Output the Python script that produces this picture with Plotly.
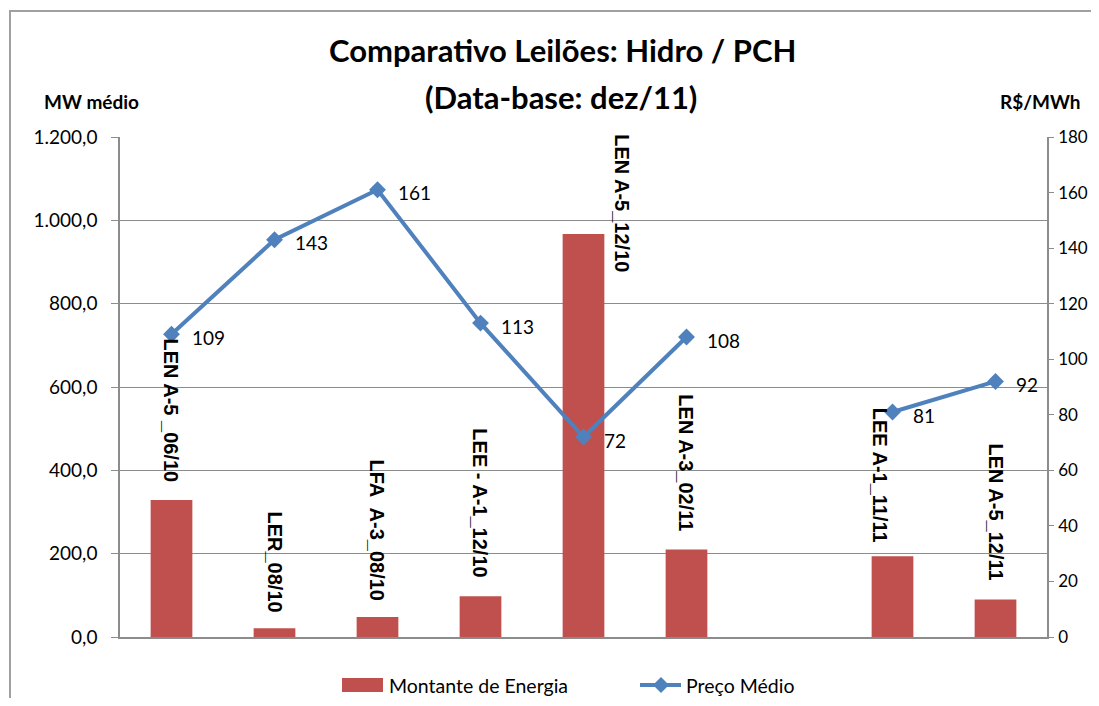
import plotly.graph_objects as go

categories = ["LEN A-5 _06/10", "LER_08/10", "LFA  A-3_08/10", "LEE - A-1_12/10",
              "LEN A-5_12/10", "LEN A-3_02/11", "", "LEE A-1_11/11", "LEN A-5_12/11"]
montante = [329, 21, 48, 98, 967, 210, None, 194, 90]
preco = [109, 143, 161, 113, 72, 108, None, 81, 92]
left_ticks = [0, 200, 400, 600, 800, 1000, 1200]
right_ticks = [0, 20, 40, 60, 80, 100, 120, 140, 160, 180]

# category-label placement: horizontal offset (in categories) and vertical centre (MW units)
label_x_offset = [0, 0, 0, 0, 0.38, 0, 0, -0.12, 0]
label_y_center = [545, 180, 257, 322, 1042, 418, 0, 389, 300]

x_idx = list(range(len(categories)))

BLUE = "#4F81BD"
RED = "#C0504D"
GRID = "#8C8C8C"
FONT = "Lato, sans-serif"
BOLDFONT = "Liberation Sans, Arial, sans-serif"

# page offset of the figure (default body margin of the html page)
OFF = 8
FIG_W, FIG_H = 1099 - 2 * OFF, 706 - 2 * OFF

# plot area in page pixels
L, R, T, B = 120, 1047, 137, 637
W, H = R - L, B - T


def px(x):
    return (x - L) / W


def py(y):
    return (B - y) / H


fig = go.Figure()
fig.add_trace(go.Bar(
    x=x_idx, y=montante, name="Montante de Energia",
    marker=dict(color=RED, line=dict(width=0)), width=0.405, yaxis="y",
    showlegend=False,
))
fig.add_trace(go.Scatter(
    x=x_idx, y=preco, name="Preço Médio", mode="lines+markers",
    line=dict(color=BLUE, width=4), marker=dict(symbol="diamond", size=13, color=BLUE),
    connectgaps=False, yaxis="y2", cliponaxis=False, showlegend=False,
))

annotations = []
for i, cat in enumerate(categories):
    if not cat:
        continue
    annotations.append(dict(
        x=x_idx[i] + label_x_offset[i], y=label_y_center[i], xref="x", yref="y",
        text="<b>" + cat.replace("  ", "\u00a0 ") + "</b>", textangle=90, showarrow=False,
        xanchor="center", yanchor="middle",
        font=dict(family=BOLDFONT, size=20, color="#000000"),
    ))

for i, v in enumerate(preco):
    if v is None:
        continue
    annotations.append(dict(
        x=x_idx[i], y=v, xref="x", yref="y2", text=str(v), showarrow=False,
        xanchor="left", yanchor="middle", xshift=18, yshift=-3,
        font=dict(family=FONT, size=19, color="#000000"),
    ))

LEG_Y = 685
annotations += [
    dict(text="<b>Comparativo Leilões: Hidro / PCH</b>", x=px(562), y=py(50),
         xref="paper", yref="paper", xanchor="center", yanchor="middle", showarrow=False,
         font=dict(family=FONT, size=31)),
    dict(text="<b>(Data-base: dez/11)</b>", x=px(561), y=py(97),
         xref="paper", yref="paper", xanchor="center", yanchor="middle", showarrow=False,
         font=dict(family=FONT, size=31)),
    dict(text="<b>MW médio</b>", x=px(91), y=py(102),
         xref="paper", yref="paper", xanchor="center", yanchor="middle", showarrow=False,
         font=dict(family=FONT, size=19)),
    dict(text="<b>R$/MWh</b>", x=px(1040), y=py(102),
         xref="paper", yref="paper", xanchor="center", yanchor="middle", showarrow=False,
         font=dict(family=FONT, size=19)),
    # custom legend texts
    dict(text="Montante de Energia", x=px(387), y=py(LEG_Y),
         xref="paper", yref="paper", xanchor="left", yanchor="middle", showarrow=False,
         font=dict(family=FONT, size=19.5)),
    dict(text="Preço Médio", x=px(684), y=py(LEG_Y),
         xref="paper", yref="paper", xanchor="left", yanchor="middle", showarrow=False,
         font=dict(family=FONT, size=19.5)),
]

# diamond for legend
dcx, dcy, dr = 661, LEG_Y, 8
diamond_path = "M {} {} L {} {} L {} {} L {} {} Z".format(
    px(dcx - dr), py(dcy), px(dcx), py(dcy - dr), px(dcx + dr), py(dcy), px(dcx), py(dcy + dr))

shapes = [
    dict(type="rect", xref="paper", yref="paper",
         x0=px(10), x1=px(1130), y0=py(740), y1=py(11),
         line=dict(color="#A0A0A0", width=2), fillcolor="rgba(0,0,0,0)", layer="below"),
    dict(type="rect", xref="paper", yref="paper",
         x0=px(342), x1=px(383), y0=py(LEG_Y + 7), y1=py(LEG_Y - 7),
         line=dict(width=0), fillcolor=RED),
    dict(type="line", xref="paper", yref="paper",
         x0=px(640), x1=px(681), y0=py(LEG_Y), y1=py(LEG_Y),
         line=dict(color=BLUE, width=4)),
    dict(type="path", xref="paper", yref="paper", path=diamond_path,
         line=dict(width=0), fillcolor=BLUE),
]

fig.update_layout(
    width=FIG_W, height=FIG_H,
    margin=dict(l=L - OFF, r=(FIG_W + OFF) - R, t=T - OFF, b=(FIG_H + OFF) - B, autoexpand=False),
    paper_bgcolor="white", plot_bgcolor="white",
    separators=",.",
    font=dict(family=FONT, size=19, color="#000000"),
    showlegend=False,
    bargap=0.5,
    xaxis=dict(range=[-0.5, 8.5], showticklabels=False, showgrid=False, zeroline=False,
               showline=True, linecolor=GRID, linewidth=1.5, ticks="", automargin=False),
    yaxis=dict(range=[0, 1200], tickvals=left_ticks, tickformat=",.1f",
               showgrid=True, gridcolor=GRID, gridwidth=1.2, zeroline=False,
               showline=True, linecolor=GRID, linewidth=1.5,
               ticks="outside", ticklen=7, tickcolor=GRID, ticklabelstandoff=10,
               tickfont=dict(family=FONT, size=19), automargin=False),
    yaxis2=dict(range=[0, 180], tickvals=right_ticks, overlaying="y", side="right",
                showgrid=False, zeroline=False, showline=True, linecolor=GRID, linewidth=1.5,
                ticks="outside", ticklen=5, tickcolor=GRID, ticklabelstandoff=1,
                tickfont=dict(family=FONT, size=17), automargin=False),
    annotations=annotations,
    shapes=shapes,
)

fig.write_html("out.html")
